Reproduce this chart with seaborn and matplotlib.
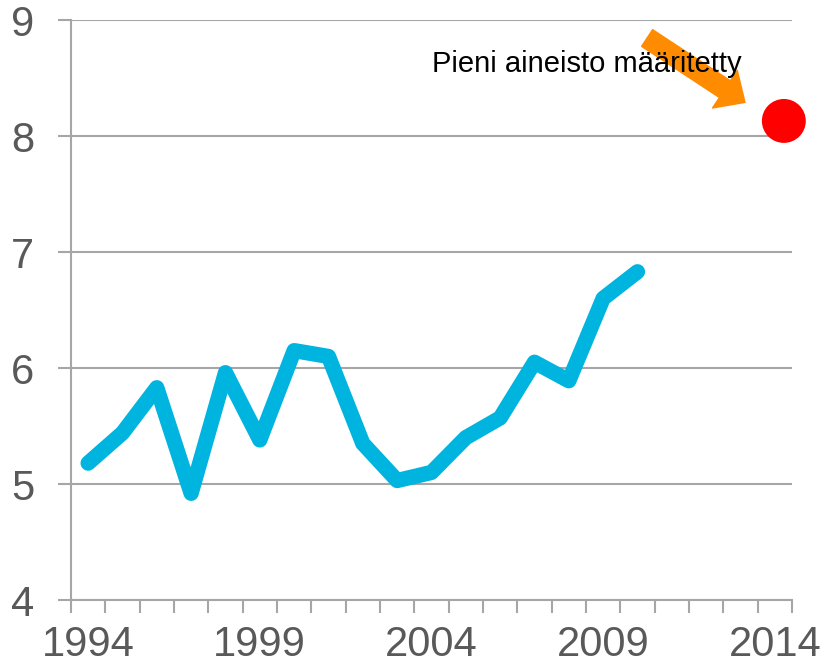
import numpy as np
import pandas as pd
import seaborn as sns
import matplotlib.pyplot as plt
import matplotlib.transforms as mtransforms

# values
years = list(range(1994, 2011))
values = [5.18, 5.44, 5.83, 4.92, 5.96, 5.38, 6.15, 6.10, 5.35, 5.03, 5.10,
          5.40, 5.57, 6.05, 5.89, 6.60, 6.83]
point_year = [2014]
point_value = [8.13]
note_text = "Pieni aineisto määritetty"
xtick_labels = [1994, 1999, 2004, 2009, 2014]
ytick_labels = [4, 5, 6, 7, 8, 9]

df = pd.DataFrame({"year": years, "value": values})
pt = pd.DataFrame({"year": point_year, "value": point_value})

sns.set_theme(style="white")
plt.rcParams["font.family"] = ["Liberation Sans", "DejaVu Sans"]

grey = "#A6A6A6"
label_col = "#595959"

fig = plt.figure(figsize=(8.25, 6.67), dpi=100)
ax = fig.add_axes([0.086, 0.1004, 0.874, 0.8696])

sns.lineplot(data=df, x="year", y="value", ax=ax, color="#00B4E0", linewidth=11,
             solid_capstyle="round", solid_joinstyle="round", zorder=3)
sns.scatterplot(data=pt, x="year", y="value", ax=ax, color="#FF0000", s=1000,
                edgecolor="none", zorder=4, clip_on=False)
# the marker sits a little right of the 2014 category centre in the original
dot = ax.collections[-1]
dot.set_offset_transform(ax.transData + mtransforms.ScaledTranslation(9 / 100, 0, fig.dpi_scale_trans))

ax.set_xlim(1993.5, 2014.5)
ax.set_ylim(4, 9)
ax.set_xlabel("")
ax.set_ylabel("")

# x axis: category-style ticks between years, labels every 5 years
ax.set_xticks(xtick_labels)
ax.set_xticklabels([str(y) for y in xtick_labels])
ax.set_xticks(np.arange(1993.5, 2015, 1.0), minor=True)
ax.tick_params(axis="x", which="major", length=0, pad=18, labelsize=30,
               labelcolor=label_col)
ax.tick_params(axis="x", which="minor", length=9, width=1.5, color=grey,
               direction="out", bottom=True)

ax.set_yticks(ytick_labels)
ax.tick_params(axis="y", which="major", length=9.5, width=1.5, color=grey,
               direction="out", left=True, pad=17, labelsize=30,
               labelcolor=label_col)

ax.grid(axis="y", color=grey, linewidth=1.5)
ax.grid(axis="x", visible=False)
for side in ["top", "right"]:
    ax.spines[side].set_visible(False)
for side in ["left", "bottom"]:
    ax.spines[side].set_color(grey)
    ax.spines[side].set_linewidth(1.5)

# note with arrow pointing to the point
ax.annotate("", xy=(2013.13, 8.29), xytext=(2010.28, 8.845),
            arrowprops=dict(arrowstyle="simple,head_length=1.2,head_width=2.25,tail_width=1.0",
                            color="#FF8C00", mutation_scale=14.4, shrinkA=0, shrinkB=0),
            annotation_clip=False, zorder=4)
ax.text(2004.02, 8.55, note_text, fontsize=21, color="black", ha="left",
        va="baseline", zorder=6)

plt.savefig("out.png", dpi=100)
